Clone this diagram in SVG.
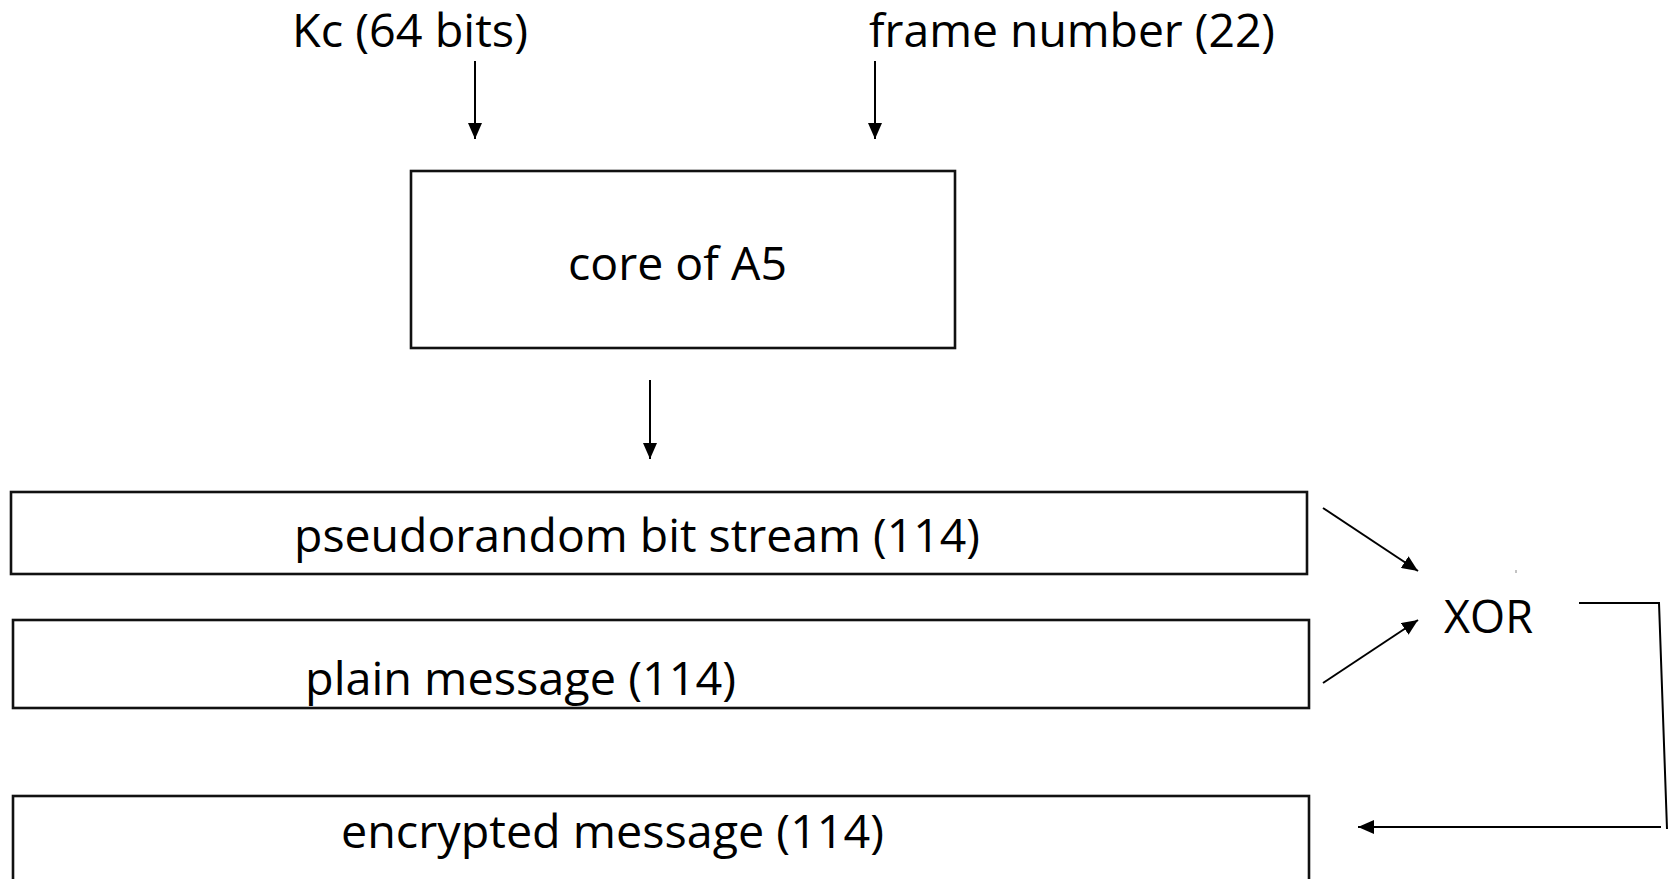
<svg xmlns="http://www.w3.org/2000/svg" width="1673" height="879" viewBox="0 0 1673 879">
  <style>
    .box { fill: #ffffff; stroke: #111111; stroke-width: 2.6; }
    .lbl { font-family: "Open Sans", "Noto Sans", "Liberation Sans", sans-serif; font-size: 46px; fill: #000000; }
    .wire { fill: none; stroke: #000000; stroke-width: 2; }
  </style>
  <defs>
    <marker id="head" viewBox="0 0 16 14" markerWidth="16" markerHeight="14" refX="16" refY="7" orient="auto" markerUnits="userSpaceOnUse">
      <path d="M0,0 L16,7 L0,14 z" fill="#000000"/>
    </marker>
  </defs>
  <rect width="1673" height="879" fill="#ffffff"/>

  <!-- inputs -->
  <g id="kc">
    <text class="lbl" x="292" y="47" textLength="236" lengthAdjust="spacingAndGlyphs">Kc (64 bits)</text>
  </g>
  <g id="frame-number">
    <text class="lbl" x="869" y="47" textLength="406" lengthAdjust="spacingAndGlyphs">frame number (22)</text>
  </g>

  <!-- generator -->
  <g id="core">
    <rect class="box" x="411" y="171" width="544" height="177"/>
    <text class="lbl" x="568" y="280" textLength="219" lengthAdjust="spacingAndGlyphs">core of A5</text>
  </g>

  <!-- bit streams -->
  <g id="keystream">
    <rect class="box" x="11" y="492" width="1296" height="82"/>
    <text class="lbl" x="294" y="552" textLength="686" lengthAdjust="spacingAndGlyphs">pseudorandom bit stream (114)</text>
  </g>
  <g id="plain">
    <rect class="box" x="13" y="620" width="1296" height="88"/>
    <text class="lbl" x="305" y="695" textLength="431" lengthAdjust="spacingAndGlyphs">plain message (114)</text>
  </g>
  <g id="encrypted">
    <rect class="box" x="13" y="796" width="1296" height="110"/>
    <text class="lbl" x="341" y="848" textLength="543" lengthAdjust="spacingAndGlyphs">encrypted message (114)</text>
  </g>

  <g id="xor">
    <text class="lbl" x="1444" y="633" textLength="89" lengthAdjust="spacingAndGlyphs">XOR</text>
    <rect x="1515.5" y="570" width="1" height="3" fill="#888888"/>
  </g>

  <!-- connectors -->
  <g id="connectors">
    <line class="wire" x1="475" y1="61" x2="475" y2="139" marker-end="url(#head)"/>
    <line class="wire" x1="875" y1="61" x2="875" y2="139" marker-end="url(#head)"/>
    <line class="wire" x1="650" y1="380" x2="650" y2="459" marker-end="url(#head)"/>
    <line class="wire" x1="1323" y1="508" x2="1418" y2="571" marker-end="url(#head)"/>
    <line class="wire" x1="1323" y1="683" x2="1418" y2="620" marker-end="url(#head)"/>
    <polyline class="wire" points="1579,603 1659,603 1667,829"/>
    <line class="wire" x1="1661" y1="827" x2="1358" y2="827" marker-end="url(#head)"/>
  </g>
</svg>
